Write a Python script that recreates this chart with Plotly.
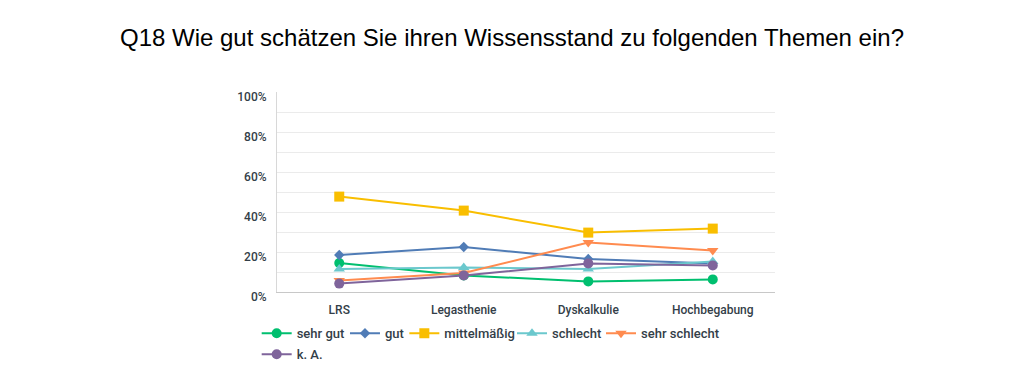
import plotly.graph_objects as go

categories = ["LRS", "Legasthenie", "Dyskalkulie", "Hochbegabung"]
series_names = ["sehr gut", "gut", "mittelmäßig", "schlecht", "sehr schlecht", "k. A."]
sehr_gut = [14.5, 8.3, 5.3, 6.3]
gut = [18.5, 22.5, 16.5, 14.3]
mittelmaessig = [47.7, 40.7, 29.7, 31.7]
schlecht = [11.5, 12.3, 11.5, 15.3]
sehr_schlecht = [5.7, 9.5, 24.7, 20.8]
k_a = [4.2, 8.3, 14.3, 13.3]
y_ticks = [0, 20, 40, 60, 80, 100]
y_tick_labels = ["0%", "20%", "40%", "60%", "80%", "100%"]

values = [sehr_gut, gut, mittelmaessig, schlecht, sehr_schlecht, k_a]
colors = ["#00BF6F", "#507CB6", "#F9BE00", "#6BC8CD", "#FF8B4F", "#7F649B"]
symbols = ["circle", "diamond", "square", "triangle-up", "triangle-down", "circle"]
sizes = [10, 8, 10, 10, 10, 10]

# legend entry positions (paper coords), one legend per entry to mimic layout
leg_x = [-0.0408, 0.1365, 0.2557, 0.4719, 0.6506, -0.0408]
leg_y = [-0.2065, -0.2065, -0.2065, -0.2065, -0.2065, -0.3115]
leg_ids = ["legend", "legend2", "legend3", "legend4", "legend5", "legend6"]

fig = go.Figure()
for name, vals, c, s, sz, lid in zip(series_names, values, colors, symbols, sizes, leg_ids):
    fig.add_trace(go.Scatter(
        x=categories, y=vals, name=name, mode="lines+markers",
        line=dict(color=c, width=2),
        marker=dict(color=c, symbol=s, size=sz),
        legend=lid,
    ))

legend_common = dict(orientation="h", xanchor="left", yanchor="middle",
                     bgcolor="rgba(0,0,0,0)", borderwidth=0,
                     font=dict(family="Roboto", size=13, color="#333E48", weight=500),
                     itemwidth=30)
legends = {}
for lid, lx, ly in zip(leg_ids, leg_x, leg_y):
    legends[lid] = dict(legend_common, x=lx, y=ly)

fig.update_layout(
    width=1008, height=359,
    margin=dict(l=269, r=241, t=84, b=75, autoexpand=False),
    paper_bgcolor="white", plot_bgcolor="white",
    title=dict(text="Q18 Wie gut schätzen Sie ihren Wissensstand zu folgenden Themen ein?",
               x=0.5, xanchor="center", y=0.9164, yanchor="middle", yref="container",
               font=dict(family="Liberation Sans, Arial", size=24, color="#000000")),
    font=dict(family="Roboto", color="#333E48"),
    showlegend=True,
    xaxis=dict(type="category", range=[-0.5, 3.5], showgrid=False, ticks="",
               showline=True, linecolor="#C8C8C8", linewidth=1,
               tickfont=dict(size=12, color="#333E48", weight=500),
               ticklabelstandoff=7),
    yaxis=dict(range=[0, 100], tickvals=y_ticks, ticktext=y_tick_labels,
               showgrid=True, gridcolor="#EBEBEB", gridwidth=1,
               minor=dict(dtick=10, showgrid=True, gridcolor="#EBEBEB", gridwidth=1),
               showline=True, linecolor="#D8D8D8", linewidth=1, zeroline=False,
               ticks="", tickfont=dict(size=12, color="#333E48", weight=500),
               ticklabelstandoff=7, ticklabelshift=5),
    **legends,
)

fig.write_html("out.html")
